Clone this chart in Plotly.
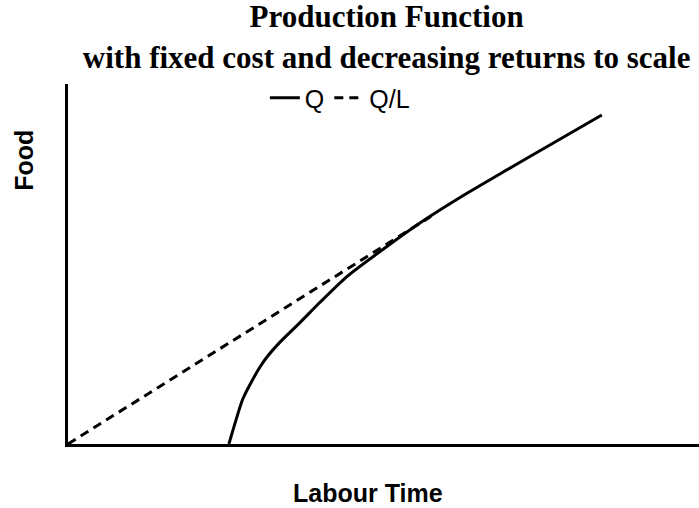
import plotly.graph_objects as go

# Production function Q (labour time vs food)
labour_q = [25.5, 27.7, 29.3, 30.4, 31.5, 33.6, 36.8, 39.9, 44.2, 50.1, 56.3, 62.9, 69.3, 76.5, 84.6]
food_q = [0.0, 12.5, 18.0, 21.3, 24.1, 28.3, 33.8, 39.3, 46.5, 54.3, 62.0, 69.3, 75.9, 83.2, 91.4]

# Average product ray Q/L from origin to tangency
labour_ql = [0.0, 57.5]
food_ql = [0.0, 63.2]

title_text = "<b>Production Function<br>with fixed cost and decreasing returns to scale</b>"
x_title = "Labour Time"
y_title = "Food"

fig = go.Figure()
fig.add_trace(go.Scatter(
    x=labour_q, y=food_q, mode="lines", name="Q",
    line=dict(color="black", width=3, shape="spline", smoothing=0.6),
    cliponaxis=False,
))
fig.add_trace(go.Scatter(
    x=labour_ql, y=food_ql, mode="lines", name="Q/L",
    line=dict(color="black", width=3, dash="9px,6px"),
    cliponaxis=False,
))

fig.update_layout(
    width=699, height=508,
    margin=dict(l=68, r=0, t=84, b=64),
    paper_bgcolor="white", plot_bgcolor="white",
    title=dict(text=title_text, x=0.505, xref="paper", xanchor="center",
               y=0.946, yref="container", yanchor="top",
               font=dict(family="Liberation Serif", size=31, color="black")),
    showlegend=True,
    legend=dict(orientation="h", x=0.312, xanchor="left", y=0.961, yanchor="middle",
                font=dict(family="Liberation Sans", size=25, color="black"),
                bgcolor="rgba(0,0,0,0)", itemwidth=30, tracegroupgap=0),
    xaxis=dict(range=[0, 100], showgrid=False, zeroline=False, showticklabels=False,
               ticks="", showline=True, linecolor="black", linewidth=3, fixedrange=True),
    yaxis=dict(range=[0, 100], showgrid=False, zeroline=False, showticklabels=False,
               ticks="", showline=True, linecolor="black", linewidth=3, fixedrange=True),
    annotations=[
        dict(text="<b>" + x_title + "</b>", xref="paper", yref="paper", x=0.475, y=-0.136,
             xanchor="center", yanchor="middle", showarrow=False,
             font=dict(family="Liberation Sans", size=25, color="black")),
        dict(text="<b>" + y_title + "</b>", xref="paper", yref="paper", x=-0.0697, y=0.787,
             xanchor="center", yanchor="middle", showarrow=False, textangle=-90,
             font=dict(family="Liberation Sans", size=25, color="black")),
    ],
)

fig.write_html("out.html", config={"displayModeBar": False},
               post_script="document.body.style.margin='0';document.body.style.padding='0';")
